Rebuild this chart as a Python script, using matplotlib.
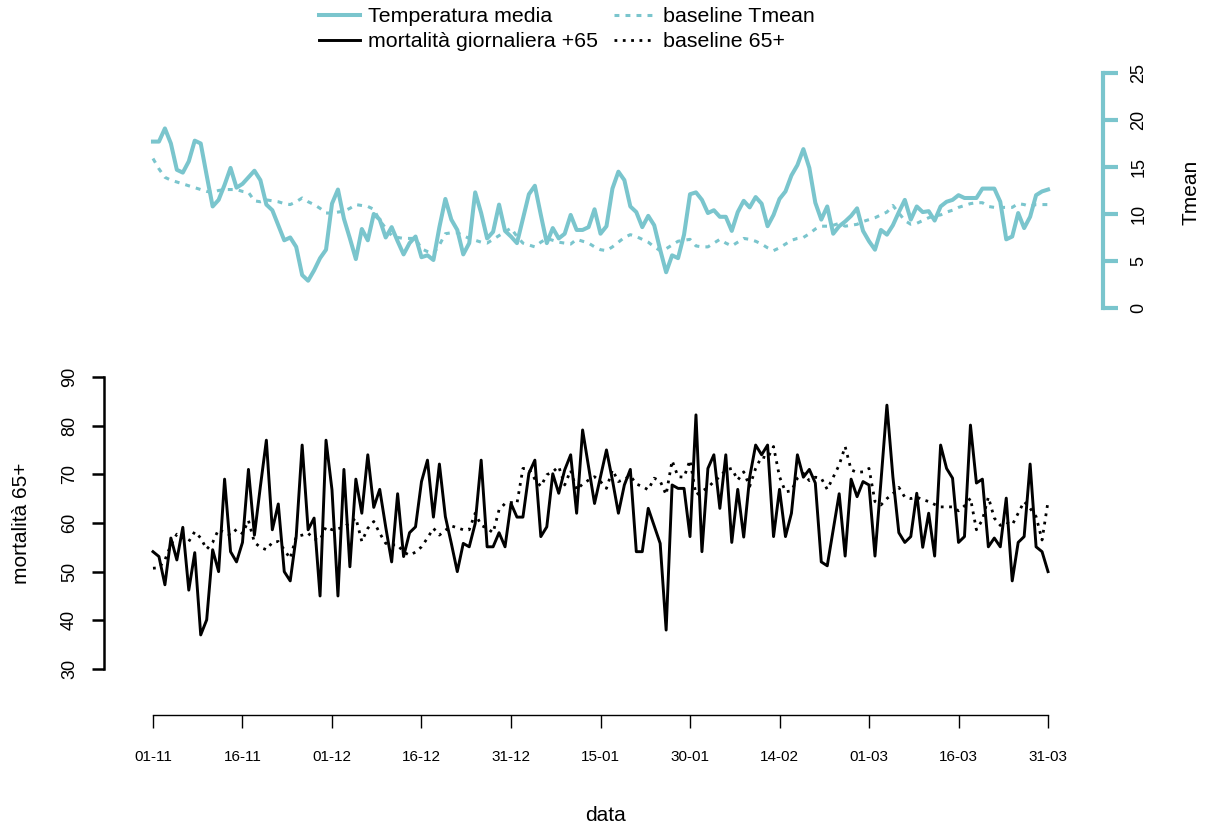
import numpy as np
import pandas as pd
import matplotlib
matplotlib.use("Agg")
import matplotlib.pyplot as plt

plt.rcParams["font.family"] = ["Liberation Sans", "DejaVu Sans"]

# daily series, 01-11 -> 31-03
dates = pd.date_range("2018-11-01", "2019-03-31", freq="D")

tmean = [17.7, 17.7, 19.1, 17.5, 14.7, 14.4, 15.6, 17.8, 17.5, 14.1,
         10.8, 11.5, 13.1, 14.9, 12.8, 13.2, 13.9, 14.6, 13.6, 11.0,
         10.4, 8.8, 7.2, 7.5, 6.5, 3.5, 2.9, 4.0, 5.3, 6.2,
         11.1, 12.6, 9.5, 7.4, 5.2, 8.4, 7.2, 10.0, 9.4, 7.5,
         8.6, 7.1, 5.7, 6.9, 7.6, 5.4, 5.6, 5.1, 8.6, 11.6,
         9.4, 8.3, 5.7, 6.9, 12.3, 10.1, 7.4, 8.1, 11.0, 8.2,
         7.6, 6.9, 9.5, 12.1, 13.0, 9.9, 6.9, 8.5, 7.4, 7.9,
         9.9, 8.3, 8.3, 8.6, 10.5, 7.9, 8.7, 12.7, 14.5, 13.6,
         10.8, 10.2, 8.6, 9.8, 8.8, 6.2, 3.8, 5.6, 5.3, 7.8,
         12.1, 12.3, 11.5, 10.1, 10.4, 9.7, 9.7, 8.2, 10.2, 11.4,
         10.7, 11.8, 11.1, 8.7, 9.9, 11.6, 12.4, 14.1, 15.2, 16.9,
         14.9, 11.2, 9.4, 10.8, 7.9, 8.7, 9.2, 9.8, 10.6, 8.2,
         7.1, 6.2, 8.3, 7.8, 8.8, 10.2, 11.5, 9.4, 10.8, 10.2,
         10.3, 9.3, 10.8, 11.3, 11.5, 12.0, 11.7, 11.7, 11.7, 12.7,
         12.7, 12.7, 11.3, 7.3, 7.6, 10.1, 8.5, 9.7, 12.0, 12.4, 12.6]

base_tmean = [15.9, 14.8, 13.9, 13.6, 13.4, 13.2, 13.0, 12.8, 12.6, 12.4,
              12.3, 12.5, 12.6, 12.6, 12.6, 12.4, 12.3, 11.4, 11.3, 11.5,
              11.4, 11.3, 11.1, 11.0, 11.3, 11.7, 11.3, 11.0, 10.6, 10.1,
              10.1, 10.2, 10.3, 10.6, 11.0, 10.9, 10.8, 10.5, 9.3, 8.5,
              7.7, 7.5, 7.4, 7.4, 7.4, 6.3, 6.0, 5.8, 6.7, 7.9,
              8.0, 8.0, 7.7, 7.4, 7.2, 7.0, 6.9, 7.3, 7.7, 8.1,
              8.5, 7.6, 6.9, 6.7, 6.5, 7.0, 7.4, 7.2, 7.0, 6.9,
              6.8, 7.3, 7.1, 6.9, 6.5, 6.2, 6.1, 6.5, 7.0, 7.5,
              7.8, 7.6, 7.3, 7.0, 6.5, 6.1, 6.3, 6.7, 7.1, 7.2,
              7.3, 6.6, 6.5, 6.5, 6.9, 7.3, 6.9, 6.6, 7.0, 7.4,
              7.3, 7.1, 6.8, 6.4, 6.1, 6.4, 6.8, 7.2, 7.4, 7.5,
              7.9, 8.4, 8.7, 8.7, 8.8, 9.0, 8.7, 8.8, 8.9, 9.2,
              9.4, 9.6, 9.9, 10.2, 10.9, 10.1, 9.3, 8.9, 9.0, 9.3,
              9.6, 9.8, 9.9, 10.2, 10.4, 10.7, 10.9, 11.1, 11.2, 11.2,
              10.8, 10.7, 10.7, 10.7, 10.7, 11.1, 11.0, 10.8, 11.0, 11.0, 11.0]

mort65 = [54.1, 53.1, 47.3, 56.9, 52.4, 59.1, 46.2, 53.9, 37.0, 40.1,
          54.5, 50.0, 69.0, 54.1, 52.0, 56.0, 71.0, 57.5, 67.5, 77.0,
          58.6, 63.9, 50.0, 48.1, 57.2, 76.0, 58.6, 61.0, 45.0, 77.0,
          66.8, 45.0, 71.0, 51.0, 69.0, 62.0, 74.0, 63.2, 66.9, 59.2,
          52.0, 66.0, 53.1, 58.0, 59.2, 68.5, 72.9, 61.2, 72.1, 61.3,
          55.8, 50.0, 55.8, 55.1, 59.9, 72.9, 55.1, 55.1, 58.0, 55.1,
          64.0, 61.2, 61.2, 70.2, 72.9, 57.2, 59.2, 70.1, 66.1, 70.9,
          74.0, 62.0, 79.1, 71.6, 64.0, 69.5, 75.0, 68.8, 62.0, 67.8,
          71.0, 54.1, 54.1, 63.0, 59.4, 55.8, 38.0, 67.8, 67.1, 67.1,
          57.2, 82.2, 54.1, 71.2, 74.0, 63.0, 74.0, 56.0, 66.9, 57.1,
          69.4, 76.0, 74.0, 76.0, 57.2, 66.9, 57.2, 62.0, 74.0, 69.4,
          71.0, 68.2, 52.0, 51.2, 58.6, 66.0, 53.2, 69.0, 65.4, 68.5,
          67.8, 53.2, 68.5, 84.2, 69.5, 58.0, 56.0, 57.2, 66.1, 55.0,
          62.0, 53.2, 76.0, 71.2, 69.2, 56.0, 57.2, 80.1, 68.2, 69.0,
          55.1, 56.9, 55.1, 65.1, 48.1, 56.0, 57.2, 72.1, 55.1, 54.1, 50.0]

base_mort65 = [50.7, 50.8, 52.4, 55.5, 57.7, 57.0, 56.2, 58.2, 56.9, 54.6,
               56.0, 58.7, 58.0, 57.5, 58.7, 57.8, 60.5, 56.0, 55.0, 54.5,
               56.0, 56.2, 54.5, 52.7, 57.2, 57.5, 57.9, 56.7, 56.5, 59.2,
               58.6, 58.8, 59.2, 60.0, 61.0, 56.2, 58.9, 60.3, 57.9, 55.8,
               55.5, 55.5, 54.0, 53.4, 54.0, 55.1, 56.9, 58.9, 57.5, 58.5,
               59.4, 59.0, 58.6, 58.6, 62.0, 59.5, 58.9, 58.0, 62.7, 64.0,
               64.2, 64.0, 71.2, 71.2, 69.0, 67.5, 69.9, 70.5, 71.6, 67.8,
               70.8, 66.8, 68.0, 68.8, 69.5, 68.5, 67.1, 70.9, 68.5, 69.0,
               69.7, 68.0, 67.5, 66.8, 69.2, 68.6, 65.8, 72.8, 69.5, 69.4,
               72.9, 65.8, 66.5, 67.3, 68.5, 69.5, 70.9, 71.2, 68.8, 70.5,
               67.5, 71.2, 73.6, 73.3, 75.7, 69.5, 66.4, 66.6, 69.2, 70.2,
               68.7, 69.4, 69.2, 66.9, 69.4, 71.9, 75.7, 70.9, 70.4, 70.5,
               71.2, 64.4, 63.7, 65.0, 66.0, 67.3, 65.3, 65.0, 65.3, 64.8,
               64.4, 63.8, 63.3, 63.3, 63.3, 62.5, 63.5, 65.1, 58.6, 60.6,
               65.3, 61.0, 59.5, 60.1, 59.6, 62.0, 64.4, 63.0, 61.3, 56.5, 64.4]

tick_idx = list(range(0, 151, 15))
tick_labels = [dates[i].strftime("%d-%m") for i in tick_idx]

col_t = "#7AC5CD"  # cadetblue3
days = np.arange(len(dates))

W, H = 1213, 830
fig = plt.figure(figsize=(W / 100, H / 100), dpi=100)
ax = fig.add_axes([117 / W, (H - 715) / H, (1084 - 117) / W, (715 - 60) / H])
ax2 = ax.twinx()

# mortality (left axis, lower part)
l_m, = ax.plot(days, mort65, color="black", lw=2.1, solid_joinstyle="round")
l_bm, = ax.plot(days, base_mort65, color="black", lw=2.0, linestyle=(0, (1, 2)))
ax.set_ylim(20.55, 155.1)
ax.set_xlim(-6.03, 156.03)

# temperature (right axis, upper part)
l_t, = ax2.plot(days, tmean, color=col_t, lw=2.9, solid_joinstyle="round")
l_bt, = ax2.plot(days, base_tmean, color=col_t, lw=2.2, linestyle=(0, (1.6, 2.0)))
ax2.set_ylim(-43.3, 26.38)

for a in (ax, ax2):
    for s in a.spines.values():
        s.set_visible(False)

ax.spines["left"].set_visible(True)
ax.spines["left"].set_bounds(30, 90)
ax.spines["left"].set_position(("outward", 9.4))
ax.spines["left"].set_linewidth(1.8)
ax.set_yticks(range(30, 91, 10))
ax.tick_params(axis="y", length=8.6, width=1.8, pad=10, labelsize=13)
for lab in ax.get_yticklabels():
    lab.set_rotation(90)
    lab.set_va("center")

ax.spines["bottom"].set_visible(True)
ax.spines["bottom"].set_bounds(0, 150)
ax.spines["bottom"].set_linewidth(1.0)
ax.set_xticks(tick_idx)
ax.set_xticklabels(tick_labels)
ax.tick_params(axis="x", length=9.4, width=1.0, pad=16, labelsize=11)

ax2.spines["right"].set_visible(True)
ax2.spines["right"].set_bounds(0, 25)
ax2.spines["right"].set_position(("outward", 13.7))
ax2.spines["right"].set_linewidth(3)
ax2.spines["right"].set_color(col_t)
ax2.set_yticks(range(0, 26, 5))
ax2.tick_params(axis="y", length=10.8, width=3, color=col_t, pad=9, labelsize=13)
for lab in ax2.get_yticklabels():
    lab.set_rotation(90)
    lab.set_va("center")

fig.text(605 / W, 1 - 815 / H, "data", ha="center", va="center", fontsize=15)
fig.text(22 / W, 1 - 523 / H, "mortalità 65+", ha="center", va="center",
         rotation=90, fontsize=15)
fig.text(1191 / W, 1 - 192 / H, "Tmean", ha="center", va="center",
         rotation=90, fontsize=15)

fig.legend([l_t, l_m, l_bt, l_bm],
           ["Temperatura media", "mortalità giornaliera +65",
            "baseline Tmean", "baseline 65+"],
           ncol=2, frameon=False, loc="upper left",
           bbox_to_anchor=(319 / W, 1 - 7 / H), fontsize=15.4,
           handlelength=1.9, handletextpad=0.4, columnspacing=0.75,
           labelspacing=0.3, borderpad=0, borderaxespad=0)

fig.savefig("out.png", dpi=100)
